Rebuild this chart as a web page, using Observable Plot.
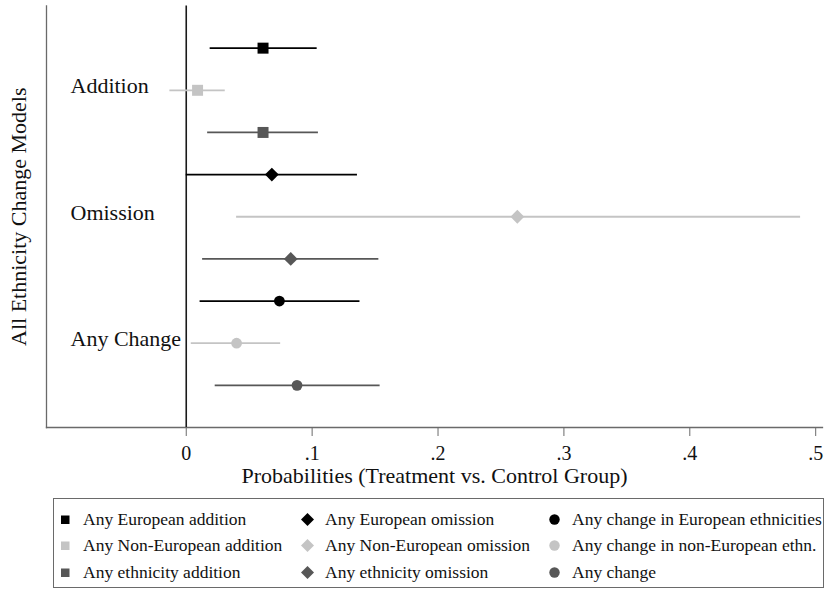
<!DOCTYPE html>
<html>
<head>
<meta charset="utf-8">
<script src="https://cdn.jsdelivr.net/npm/d3@7"></script>
<script src="https://cdn.jsdelivr.net/npm/@observablehq/plot@0.6"></script>
<style>
  body { margin: 0; background: #fff; font-family: "Liberation Serif", "Times New Roman", serif; }
  #wrap { position: relative; width: 825px; height: 590px; }
  #chart { position: absolute; left: 0; top: 0; }
  #legend {
    position: absolute; left: 53px; top: 498px; width: 771px; height: 90px;
    box-sizing: border-box; border: 1.5px solid #6a6a6a;
    display: grid; grid-template-columns: 242px 247px 1fr; grid-auto-rows: 26.5px;
    padding-left: 4px; padding-top: 7px;
    font-size: 17.5px; color: #111; white-space: nowrap;
  }
  .item { display: flex; align-items: center; }
  .item svg { flex: none; margin-right: 10px; }
</style>
</head>
<body>
<div id="wrap">
  <div id="chart"></div>
  <div id="legend"></div>
</div>
<script>
// ---- data ----
const seriesNames = [
  "Any European addition", "Any Non-European addition", "Any ethnicity addition",
  "Any European omission", "Any Non-European omission", "Any ethnicity omission",
  "Any change in European ethnicities", "Any change in non-European ethn.", "Any change"
];
const estimates = [0.061, 0.009, 0.061, 0.068, 0.263, 0.083, 0.074, 0.040, 0.088];
const lower     = [0.019, -0.013, 0.017, 0.000, 0.040, 0.013, 0.011, 0.004, 0.023];
const upper     = [0.104, 0.031, 0.105, 0.136, 0.488, 0.153, 0.138, 0.075, 0.154];
const groupLabels = ["Addition", "Omission", "Any Change"];
const groupRows = [2, 5, 8];
const xTicks = [0, 0.1, 0.2, 0.3, 0.4, 0.5];
const xTitle = "Probabilities (Treatment vs. Control Group)";
const yTitle = "All Ethnicity Change Models";

// ---- styles ----
const shapes = ["square", "square", "square", "diamond2", "diamond2", "diamond2", "circle", "circle", "circle"];
const palette = ["#000000", "#c4c4c4", "#575757"];
const FONT = "Liberation Serif, Times New Roman, serif";

const rows = seriesNames.map((name, i) => ({
  name, row: i + 1, est: estimates[i], lo: lower[i], hi: upper[i],
  shape: shapes[i], color: palette[i % 3]
}));
const groups = groupLabels.map((label, i) => ({label, row: groupRows[i]}));
const fmt = d => d === 0 ? "0" : String(d).replace(/^0/, "");

const chart = Plot.plot({
  width: 825,
  height: 495,
  marginLeft: 46,
  marginRight: 3,
  marginTop: 5.5,
  marginBottom: 68,
  style: {fontFamily: FONT, background: "#fff"},
  x: {domain: [-0.111, 0.5054], axis: null},
  y: {domain: [0, 10], reverse: true, axis: null},
  marks: [
    Plot.frame({anchor: "left", stroke: "#6a6a6a", strokeWidth: 1.3}),
    Plot.frame({anchor: "bottom", stroke: "#6a6a6a", strokeWidth: 1.3}),
    Plot.axisX({ticks: xTicks, tickFormat: fmt, tickSize: 9, tickPadding: 9,
      fontSize: 20, fontFamily: FONT, stroke: "#6a6a6a", fill: "#111", label: null}),
    Plot.ruleX([0], {stroke: "#1a1a1a", strokeWidth: 1.6}),
    Plot.ruleY(rows, {y: "row", x1: "lo", x2: "hi", stroke: "color", strokeWidth: 1.8}),
    Plot.dot(rows.filter(d => d.shape === "square"), {x: "est", y: "row", symbol: "square", r: 6.2, fill: "color", stroke: "none"}),
    Plot.dot(rows.filter(d => d.shape === "diamond2"), {x: "est", y: "row", symbol: "diamond2", r: 6.2, fill: "color", stroke: "none"}),
    Plot.dot(rows.filter(d => d.shape === "circle"), {x: "est", y: "row", symbol: "circle", r: 5.4, fill: "color", stroke: "none"}),
    Plot.text(groups, {y: "row", text: "label", frameAnchor: "left", dx: 24, dy: -4,
      textAnchor: "start", lineAnchor: "middle", fontSize: 22, fontFamily: FONT, fill: "#111"}),
    Plot.text([yTitle], {frameAnchor: "left", dx: -28, rotate: -90, text: d => d,
      textAnchor: "middle", lineAnchor: "middle", fontSize: 22, fontFamily: FONT, fill: "#111"}),
    Plot.text([xTitle], {frameAnchor: "bottom", dy: 48, text: d => d,
      textAnchor: "middle", lineAnchor: "middle", fontSize: 22, fontFamily: FONT, fill: "#111"})
  ]
});
document.getElementById("chart").appendChild(chart);

// ---- legend ----
const legend = d3.select("#legend");
// legend laid out in columns: squares, diamonds, circles; rows by colour
const order = [0, 3, 6, 1, 4, 7, 2, 5, 8];
for (const i of order) {
  const d = rows[i];
  const item = legend.append("div").attr("class", "item");
  const svg = item.append("svg").attr("width", 15).attr("height", 15);
  if (d.shape === "square") {
    svg.append("rect").attr("x", 3).attr("y", 3.5).attr("width", 8.5).attr("height", 8.5).attr("fill", d.color);
  } else if (d.shape === "diamond2") {
    svg.append("path").attr("d", "M7.5,1L14,7.5L7.5,14L1,7.5Z").attr("fill", d.color);
  } else {
    svg.append("circle").attr("cx", 7.5).attr("cy", 7.5).attr("r", 5.2).attr("fill", d.color);
  }
  item.append("span").text(d.name);
}
</script>
</body>
</html>
